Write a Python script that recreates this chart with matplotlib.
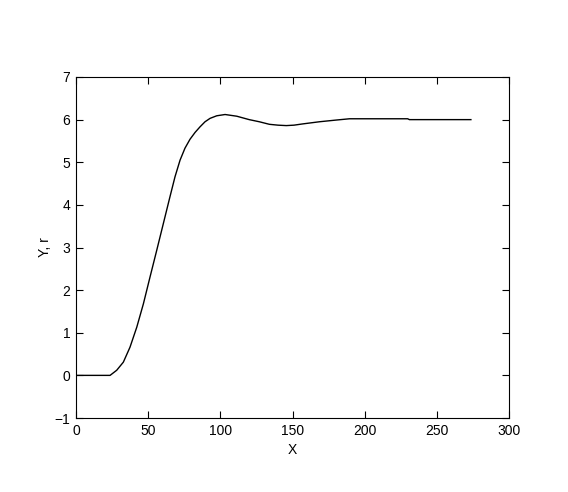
import numpy as np
import matplotlib
matplotlib.use("Agg")
import matplotlib.pyplot as plt

# step response
x = [0, 23.6, 28.2, 32.8, 37.4, 42.1, 46.7, 51.3, 55.9, 60.5, 65.1, 68.6, 72.1,
     75.5, 79, 82.5, 85.9, 89.4, 92.9, 97.5, 103.3, 111.4, 120, 127, 134, 140,
     145.7, 151, 157.2, 168.7, 180.3, 189.5, 200, 229.8, 231, 273.6]
y = [0, 0, 0.12, 0.31, 0.66, 1.13, 1.68, 2.31, 2.93, 3.56, 4.19, 4.66, 5.05,
     5.33, 5.54, 5.70, 5.83, 5.95, 6.03, 6.09, 6.12, 6.08, 6.0, 5.95, 5.89, 5.87,
     5.86, 5.87, 5.9, 5.95, 5.99, 6.02, 6.02, 6.02, 6.0, 6.0]

xticks = [0, 50, 100, 150, 200, 250, 300]
yticks = [-1, 0, 1, 2, 3, 4, 5, 6, 7]

plt.rcParams['font.family'] = ['Liberation Sans', 'DejaVu Sans']

fig = plt.figure(figsize=(5.68, 4.92), dpi=100)
ax = fig.add_axes([76 / 568, 74 / 492, 433 / 568, 341 / 492])
ax.plot(x, y, color='black', linewidth=1.0)

ax.set_xlim(0, 300)
ax.set_ylim(-1, 7)
ax.set_xticks(xticks)
ax.set_yticks(yticks)
ax.tick_params(direction='in', length=5, width=0.8, labelsize=10,
               top=True, right=True, pad=4)
for s in ax.spines.values():
    s.set_linewidth(0.8)

ax.set_xlabel('X', fontsize=10, labelpad=4)
ax.set_ylabel('Y, r', fontsize=10, labelpad=2)

fig.savefig('out.png', dpi=100)
